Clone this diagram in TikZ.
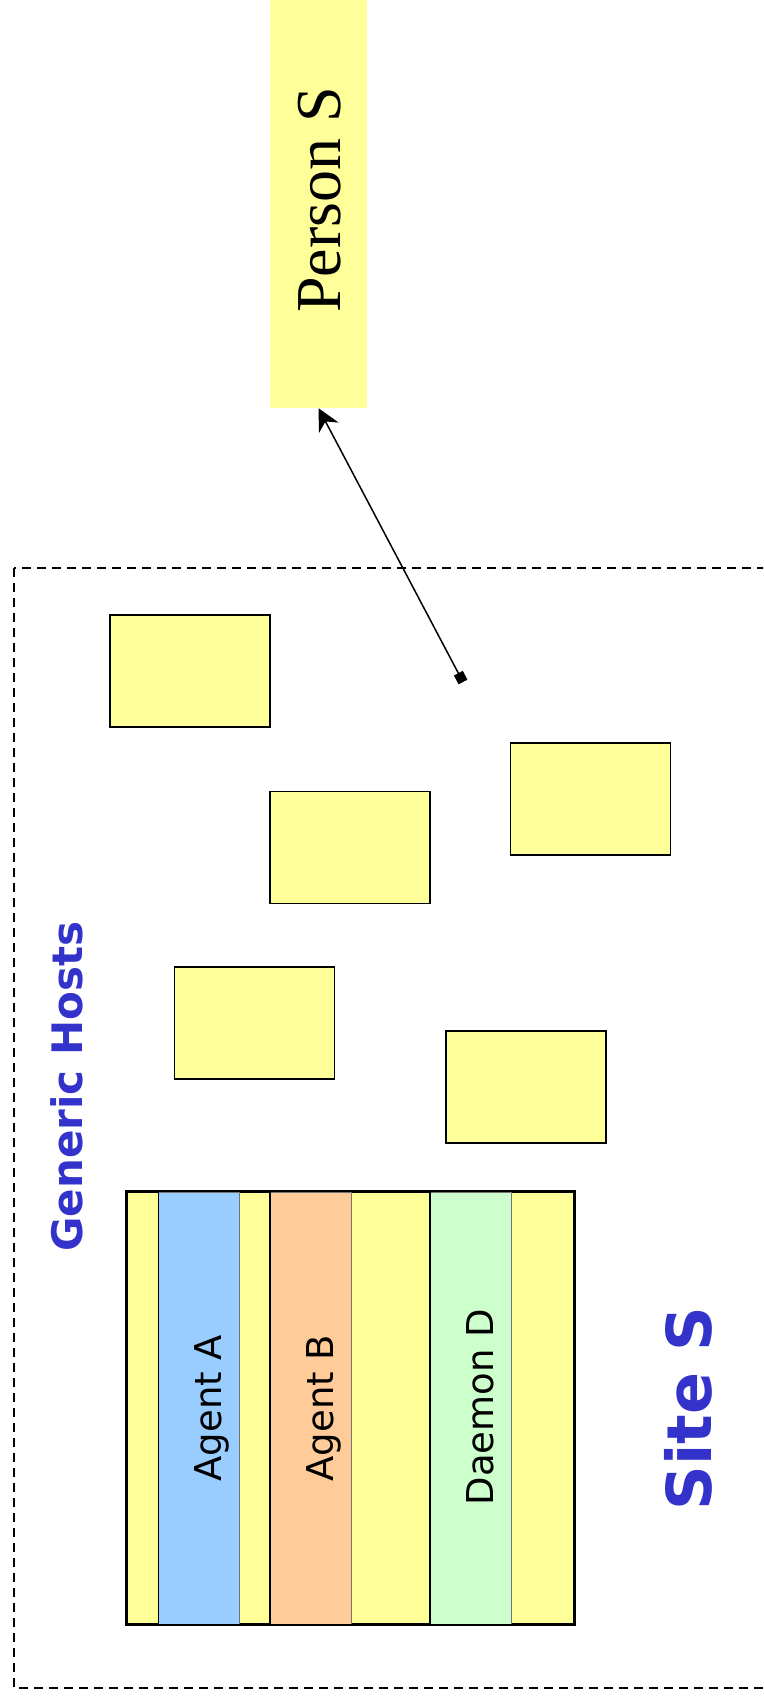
\documentclass[tikz,border=0pt]{standalone}
\usepackage{fontspec}
\setmainfont{Liberation Serif}
\setsansfont{DejaVu Sans}
\usetikzlibrary{arrows.meta}
\definecolor{hostyellow}{HTML}{FFFF99}
\definecolor{agentblue}{HTML}{99CCFF}
\definecolor{agentorange}{HTML}{FFCC99}
\definecolor{daemongreen}{HTML}{CCFFCC}
\definecolor{titleblue}{HTML}{3333CC}
\begin{document}
\begin{tikzpicture}[x=1pt,y=-1pt,
  hostbox/.style={draw=black, line width=1.6pt, fill=hostyellow,
    minimum width=160pt, minimum height=112pt, inner sep=0pt},
  stripe/.style={draw=black!55, line width=0.8pt, minimum width=80.5pt,
    minimum height=432pt, inner sep=0pt},
  stripelabel/.style={anchor=base, rotate=90, inner sep=0pt,
    font=\sffamily\fontsize{37}{44}\selectfont},
  boldlabel/.style={anchor=base, rotate=90, inner sep=0pt, text=titleblue,
    font=\sffamily\bfseries\fontsize{#1}{#1}\selectfont},
  sitebox/.style={draw=black, line width=1.5pt, dash pattern=on 9pt off 6pt}]
\useasboundingbox (0,0) rectangle (763,1702);
\clip (0,0) rectangle (763,1702);

% person at the top
\node[fill=hostyellow, minimum width=97pt, minimum height=408pt, inner sep=0pt]
  (person) at (318.5,204) {};
\node[anchor=base, rotate=90, inner sep=0pt,
  font=\rmfamily\fontsize{64}{64}\selectfont] (personlabel) at (340.5,200) {Person S};

% site boundary (open to the right)
\draw[sitebox] (14,568) rectangle (800,1688);

% generic hosts
\node[hostbox] (h1) at (190,671) {};
\node[hostbox] (h2) at (350,847.5) {};
\node[hostbox] (h3) at (590.5,799) {};
\node[hostbox] (h4) at (254.5,1023) {};
\node[hostbox] (h5) at (526,1087) {};
\node[boldlabel=42] (hostslabel) at (82.7,1086.5) {Generic Hosts};

% host running the agents and the daemon
\node[hostbox, minimum width=447pt, minimum height=432pt] (main) at (350.5,1408) {};
\node[stripe, fill=agentblue] (sa) at (199,1408) {};
\node[stripe, fill=agentorange] (sb) at (310.8,1408) {};
\node[stripe, fill=daemongreen] (sd) at (470.8,1408) {};
\foreach \s in {sa,sb,sd}
  \draw[line width=1.6pt] (\s.north west) -- (\s.south west);
\draw[line width=1.5pt] (main.north west) rectangle (main.south east);
\node[stripelabel] (la) at (221.7,1408) {Agent A};
\node[stripelabel] (lb) at (333.3,1408) {Agent B};
\node[stripelabel] (ld) at (493.3,1407) {Daemon D};

\node[boldlabel=62] (sitelabel) at (711.7,1408.5) {Site S};

% link from the site to the person
\coordinate (hostlink) at (463,682);
\draw[line width=1.5pt,
  {Square[length=10pt,width=10pt]}-{Stealth[length=22pt,width=22pt,inset=7pt]}]
  (hostlink) -- (person.south);
\end{tikzpicture}
\end{document}
